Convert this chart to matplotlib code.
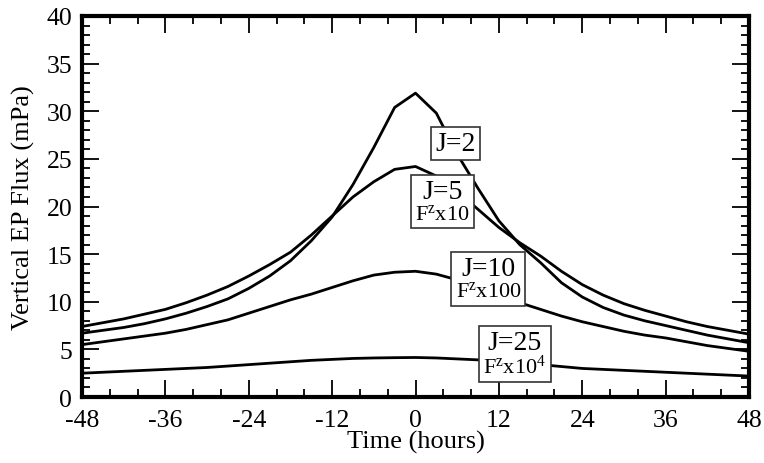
import matplotlib
matplotlib.use("Agg")
import matplotlib.pyplot as plt
from matplotlib.offsetbox import TextArea, VPacker, AnnotationBbox
from matplotlib.ticker import MultipleLocator

plt.rcParams['font.family'] = ['Liberation Serif', 'DejaVu Serif']
plt.rcParams['mathtext.default'] = 'regular'
plt.rcParams['axes.unicode_minus'] = False

# time axis (hours), 3-hourly
hours = list(range(-48, 49, 3))

# vertical EP flux (mPa), scaled as in the labels
flux_j2 = [6.7, 7.0, 7.3, 7.7, 8.2, 8.8, 9.5, 10.3, 11.4, 12.7, 14.3, 16.4,
           18.9, 22.3, 26.2, 30.4, 31.9, 29.8, 25.5, 21.9, 18.5, 16.0, 14.1,
           12.0, 10.5, 9.4, 8.6, 8.0, 7.5, 7.0, 6.5, 6.1, 5.7]
flux_j5 = [7.4, 7.8, 8.2, 8.7, 9.2, 9.9, 10.7, 11.6, 12.7, 13.9, 15.2, 17.0,
           19.0, 21.0, 22.6, 23.9, 24.2, 23.2, 21.6, 19.7, 17.8, 16.2, 14.8,
           13.2, 11.8, 10.7, 9.8, 9.1, 8.5, 7.9, 7.4, 7.0, 6.6]
flux_j10 = [5.5, 5.8, 6.1, 6.4, 6.7, 7.1, 7.6, 8.1, 8.8, 9.5, 10.2, 10.8,
            11.5, 12.2, 12.8, 13.1, 13.2, 12.9, 12.3, 11.6, 10.7, 9.9, 9.2,
            8.5, 7.9, 7.4, 6.9, 6.5, 6.2, 5.8, 5.4, 5.1, 4.8]
flux_j25 = [2.5, 2.6, 2.7, 2.8, 2.9, 3.0, 3.1, 3.25, 3.4, 3.55, 3.7, 3.85,
            3.95, 4.05, 4.1, 4.13, 4.15, 4.1, 4.0, 3.9, 3.75, 3.6, 3.4, 3.2,
            3.0, 2.9, 2.8, 2.7, 2.6, 2.5, 2.4, 2.3, 2.2]

# label text and where each box sits (hours, mPa)
labels = [("J=2", None, 5.8, 26.6),
          ("J=5", "F$^z$x10", 3.9, 20.5),
          ("J=10", "F$^z$x100", 10.5, 12.4),
          ("J=25", "F$^z$x10$^4$", 14.3, 4.5)]

fig = plt.figure(figsize=(7.64, 4.64), dpi=100)
ax = fig.add_axes([0.1073, 0.1422, 0.8731, 0.8212])

for series in [flux_j2, flux_j5, flux_j10, flux_j25]:
    ax.plot(hours, series, color='black', lw=2.0, zorder=2)

for top, bottom, hx, hy in labels:
    parts = [TextArea(top, textprops=dict(fontsize=20))]
    if bottom:
        parts.append(TextArea(bottom, textprops=dict(fontsize=16)))
    box = VPacker(children=parts, align='center', pad=0, sep=0)
    ab = AnnotationBbox(box, (hx, hy), xycoords='data', frameon=True,
                        pad=0.15, zorder=5,
                        bboxprops=dict(edgecolor='#333333', facecolor='white',
                                       lw=1.2, boxstyle='square'))
    ax.add_artist(ab)

ax.set_xlim(-48, 48)
ax.set_ylim(0, 40)
ax.xaxis.set_major_locator(MultipleLocator(12))
ax.xaxis.set_minor_locator(MultipleLocator(4))
ax.yaxis.set_major_locator(MultipleLocator(5))
ax.yaxis.set_minor_locator(MultipleLocator(1))
ax.tick_params(which='both', direction='in', top=True, right=True,
               labelsize=18.5, width=1.3)
ax.tick_params(axis='x', pad=8.5)
ax.tick_params(axis='y', pad=7)
ax.tick_params(which='major', length=12)
ax.tick_params(which='minor', length=6)
for sp in ax.spines.values():
    sp.set_linewidth(3)

ax.set_xlabel('Time (hours)', fontsize=19, labelpad=-1)
ax.set_ylabel('Vertical EP Flux (mPa)', fontsize=19, labelpad=8)

fig.savefig('out.png', dpi=100)
